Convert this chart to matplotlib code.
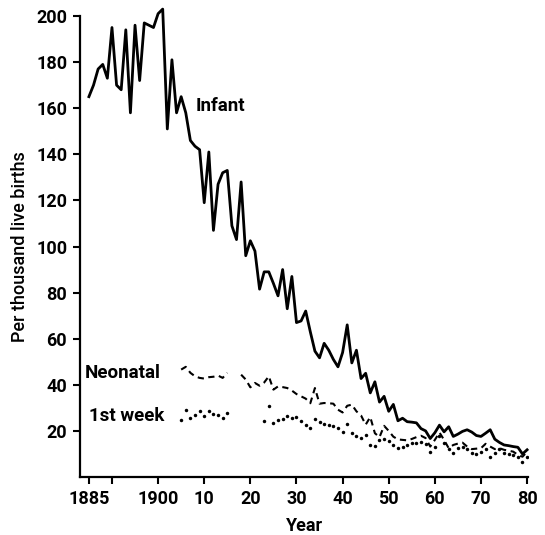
import matplotlib.pyplot as plt
import numpy as np

plt.rcParams['font.family'] = ['Roboto', 'DejaVu Sans']

# Infant mortality, per thousand live births
infant_years = np.arange(1885, 1981)
infant = [
    165, 170, 177, 179, 173, 195, 170, 168, 194, 158,   # 1885-1894
    196, 172, 197, 196, 195, 201, 203, 151, 181, 158,   # 1895-1904
    165, 158, 146, 143.5, 142, 119, 141, 107, 127, 132,  # 1905-1914
    133, 109, 103, 128, 96, 102.5, 98, 81.5, 89, 89,    # 1915-1924
    84, 78.6, 90, 73, 87, 67, 67.7, 72, 63, 54.6,       # 1925-1934
    51.7, 58, 55, 51, 47.8, 54, 66, 49.5, 55, 42.7,     # 1935-1944
    45, 36.5, 41.3, 32.5, 35, 28.5, 31.5, 24.4, 25.5, 24,  # 1945-1954
    23.8, 23.5, 21, 20, 16.7, 19.2, 22.5, 19.6, 21.8, 17.6,  # 1955-1964
    18.6, 19.8, 20.5, 19.5, 18, 17.6, 19, 20.5, 16.4, 15,   # 1965-1974
    13.9, 13.6, 13.2, 12.9, 10, 11.8,                    # 1975-1980
]

# Neonatal mortality (gap 1916-1917)
neo_years = np.arange(1905, 1981)
neonatal = [
    46.6, 47.8, 45.2, 43.7, 43, 42.7, 43.3, 43.5, 44, 43,   # 1905-1914
    45.2, np.nan, np.nan, 44.4, 42.3, 38.9, 40.8, 39.6, 41, 43.7,  # 1915-1924
    37.9, 39.3, 39, 38.6, 37.5, 36, 35, 34, 32, 38.6,   # 1925-1934
    31.8, 32.1, 32, 31.8, 29.2, 28, 30.9, 31.4, 28.5, 26.7,  # 1935-1944
    22.7, 26, 19, 17.3, 22.2, 20, 17.5, 16.3, 16.1, 15.9,  # 1945-1954
    16.5, 17.3, 17.9, 16.9, 13.2, 16.1, 19.3, 16.1, 12.5, 13.9,  # 1955-1964
    14.5, 14.9, 13.2, 12.1, 12.3, 12.5, 14.4, 13.2, 12.1, 12.5,  # 1965-1974
    11.8, 11.4, 11, 9.6, 8.8, 11,                        # 1975-1980
]

# First-week mortality (gap 1916-1922)
week_years = np.arange(1905, 1981)
first_week = [
    24.8, 28.9, 25.6, 27, 28.5, 26.3, 28.5, 27.5, 27, 25.6,  # 1905-1914
    27.7, np.nan, np.nan, np.nan, np.nan, np.nan, np.nan, np.nan, 24.1, 30.6,  # 1915-1924
    23.4, 24.8, 25.1, 26.3, 25.6, 26, 24.1, 22.5, 21.2, 25.1,  # 1925-1934
    23.7, 23.2, 22.7, 22.2, 21.2, 19.7, 23.1, 19, 17.6, 16.9,  # 1935-1944
    18.3, 13.9, 13.6, 16.1, 16.4, 15.8, 14, 12.5, 13.2, 13.9,  # 1945-1954
    14.6, 14.9, 15.4, 14.4, 11, 13.2, 17.9, 14.9, 12.1, 10.6,  # 1955-1964
    12.5, 13.2, 12.1, 10.3, 10, 11, 12.1, 8.8, 10.3, 12.1,  # 1965-1974
    10.3, 10, 9.6, 8.6, 6.7, 8.8,                         # 1975-1980
]

x_ticks = [1885, 1890, 1900, 1910, 1920, 1930, 1940, 1950, 1960, 1970, 1980]
x_tick_labels = ["1885", "", "1900", "10", "20", "30", "40", "50", "60", "70", "80"]
y_ticks = [20, 40, 60, 80, 100, 120, 140, 160, 180, 200]

fig = plt.figure(figsize=(5.45, 5.35), dpi=100)
ax = fig.add_axes([0.1462, 0.1084, 0.8235, 0.8617])

ax.plot(infant_years, infant, color="black", lw=2.0, clip_on=False)
ax.plot(neo_years, neonatal, color="black", lw=1.5, linestyle=(0, (3, 2.2)))
ax.plot(week_years, first_week, linestyle="none", marker="o", ms=2.5,
        mew=0, color="black")

ax.text(1908.2, 160.8, "Infant", fontsize=13.5, fontweight="bold", va="center")
ax.text(1884.0, 45.3, "Neonatal", fontsize=13.5, fontweight="bold", va="center")
ax.text(1885.0, 26.6, "1st week", fontsize=13.5, fontweight="bold", va="center")

ax.set_xlim(1883, 1980.3)
ax.set_ylim(0, 200)
ax.set_xticks(x_ticks)
ax.set_xticklabels(x_tick_labels)
ax.set_yticks(y_ticks)

for side in ["top", "right"]:
    ax.spines[side].set_visible(False)
for side in ["left", "bottom"]:
    ax.spines[side].set_linewidth(1.6)

ax.tick_params(axis="both", direction="out", length=5, width=1.5,
               labelsize=13, pad=4)
for lab in ax.get_xticklabels() + ax.get_yticklabels():
    lab.set_fontweight("bold")
ax.set_xlabel("Year", fontsize=13, fontweight="bold", labelpad=7)
ax.set_ylabel("Per thousand live births", fontsize=13, fontweight="medium",
              labelpad=5)

fig.savefig("out.png", dpi=100)
